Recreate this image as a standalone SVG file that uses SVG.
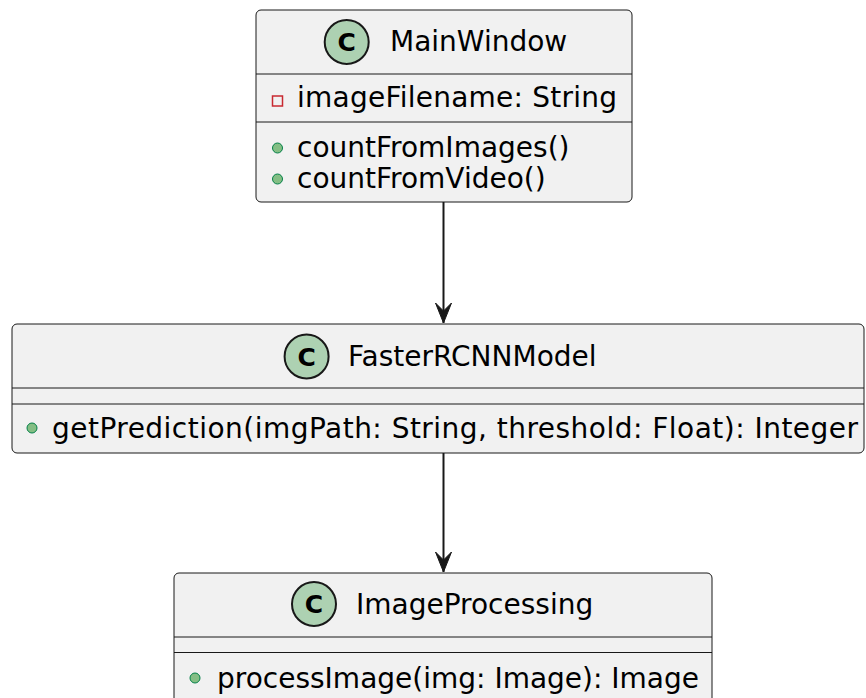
<svg xmlns="http://www.w3.org/2000/svg" width="866" height="698" viewBox="0 0 866 698">
<defs>
<style>
.box{fill:#F1F1F1;stroke:#181818;stroke-width:1}
.sep{stroke:#181818;stroke-width:1}
.spot{fill:#ADD1B2;stroke:#181818;stroke-width:2}
.spotc{font-family:"DejaVu Sans",sans-serif;font-size:25px;font-weight:bold;fill:#000;text-anchor:middle}
.title{font-family:"DejaVu Sans",sans-serif;font-size:28px;fill:#000}
.mem{font-family:"DejaVu Sans",sans-serif;font-size:28px;fill:#000}
.pub{fill:#84BE84;stroke:#038048;stroke-width:1}
.priv{fill:none;stroke:#C82930;stroke-width:1.5}
.edge{stroke:#181818;stroke-width:2;fill:none}
</style>
<marker id="arr" markerUnits="userSpaceOnUse" viewBox="-22 -10 24 20" refX="0" refY="0" markerWidth="24" markerHeight="20" orient="auto" overflow="visible">
<path d="M0,0 L-20,-8 L-12,0 L-20,8 Z" fill="#181818" stroke="#181818" stroke-width="1"/>
</marker>
</defs>
<rect width="866" height="698" fill="#FFFFFF"/>
<g id="MainWindow">
<rect class="box" x="256" y="10" width="376" height="192" rx="5"/>
<circle class="spot" cx="346.7" cy="42" r="22"/>
<text class="spotc" x="346.7" y="51">C</text>
<text class="title" x="390" y="51">MainWindow</text>
<line class="sep" x1="256" y1="74" x2="632" y2="74"/>
<rect class="priv" x="272.5" y="96" width="10" height="10"/>
<text class="mem" x="297" y="107" textLength="320" lengthAdjust="spacing">imageFilename: String</text>
<line class="sep" x1="256" y1="122" x2="632" y2="122"/>
<circle class="pub" cx="277.5" cy="148" r="5"/>
<text class="mem" x="297" y="157">countFromImages()</text>
<circle class="pub" cx="277.5" cy="179" r="5"/>
<text class="mem" x="297" y="188">countFromVideo()</text>
</g>
<g id="FasterRCNNModel">
<rect class="box" x="12" y="324" width="852" height="129" rx="5"/>
<circle class="spot" cx="306.6" cy="356.5" r="22"/>
<text class="spotc" x="306.6" y="365.5">C</text>
<text class="title" x="348" y="366">FasterRCNNModel</text>
<line class="sep" x1="12" y1="388" x2="864" y2="388"/>
<line class="sep" x1="12" y1="404" x2="864" y2="404"/>
<circle class="pub" cx="32" cy="428" r="5"/>
<text class="mem" x="52" y="438" textLength="806" lengthAdjust="spacing">getPrediction(imgPath: String, threshold: Float): Integer</text>
</g>
<g id="ImageProcessing">
<rect class="box" x="174" y="573" width="538" height="130" rx="5"/>
<circle class="spot" cx="314" cy="604" r="22"/>
<text class="spotc" x="314" y="613">C</text>
<text class="title" x="356" y="614">ImageProcessing</text>
<line class="sep" x1="174" y1="637" x2="712" y2="637"/>
<line class="sep" x1="174" y1="652.5" x2="712" y2="652.5"/>
<circle class="pub" cx="195" cy="678" r="5"/>
<text class="mem" x="217" y="688">processImage(img: Image): Image</text>
</g>
<g id="connectors">
<line class="edge" x1="443.5" y1="202" x2="443.5" y2="323" marker-end="url(#arr)"/>
<line class="edge" x1="443.5" y1="453" x2="443.5" y2="572" marker-end="url(#arr)"/>
</g>
</svg>
